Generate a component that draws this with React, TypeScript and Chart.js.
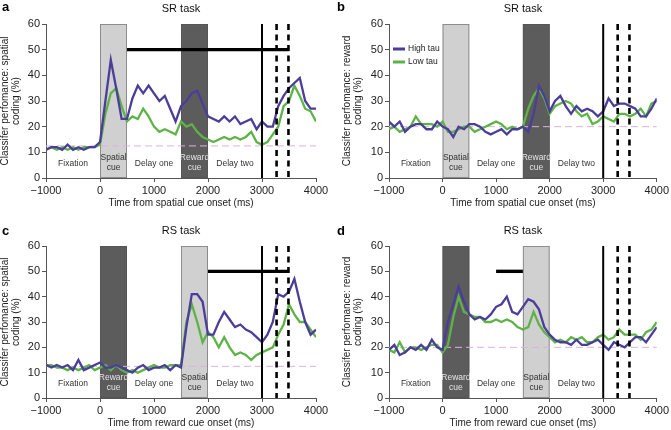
import React, { useEffect, useRef } from "react";
import { Chart, registerables } from "chart.js";
Chart.register(...registerables);

// ---------- data ----------
const TIMES = [
  -1000, -900, -800, -700, -600, -500, -400, -300, -200, -100,
  0, 100, 200, 300, 400, 500, 600, 700, 800, 900,
  1000, 1100, 1200, 1300, 1400, 1500, 1600, 1700, 1800, 1900,
  2000, 2100, 2200, 2300, 2400, 2500, 2600, 2700, 2800, 2900,
  3000, 3100, 3200, 3300, 3400, 3500, 3600, 3700, 3800, 3900, 4000,
];

// a: SR task, spatial coding
const A_HIGH = [
  11, 12, 12, 11, 13, 11, 12, 11, 12, 12,
  14, 30, 46, 35, 23, 23, 31, 36, 33, 36,
  33, 30, 32, 27, 22, 28, 30, 33, 34, 29,
  24, 23, 22, 24, 22, 24, 21, 22, 23, 19,
  22, 20, 20, 28, 32, 35, 37, 39, 30, 27, 27,
];
const A_LOW = [
  11, 12, 11, 12, 11, 12, 11, 12, 12, 12,
  13, 25, 33, 35, 28, 22, 24, 23, 27, 24,
  20, 18, 19, 18, 17, 22, 20, 21, 18, 16,
  15, 14, 15, 16, 15, 16, 15, 16, 18, 14,
  13, 14, 17, 20, 28, 30, 36, 32, 27, 26, 22,
];

// b: SR task, reward coding
const B_HIGH = [
  22, 20, 22, 18, 20, 21, 21, 19, 19, 22,
  20, 19, 16, 20, 19, 21, 21, 20, 18, 17,
  18, 19, 17, 19, 19, 20, 18, 25, 36, 32,
  26, 30, 32, 28, 25, 28, 26, 27, 26, 24,
  26, 31, 28, 29, 29, 28, 27, 24, 24, 27, 31,
];
const B_LOW = [
  19, 20, 18, 19, 20, 24, 21, 21, 21, 20,
  22, 18, 18, 19, 20, 20, 18, 19, 20, 21,
  22, 21, 19, 20, 19, 20, 27, 32, 35, 31,
  25, 28, 29, 30, 29, 26, 24, 25, 21, 22,
  24, 23, 22, 25, 25, 24, 25, 27, 24, 29, 30,
];

// c: RS task, spatial coding
const C_HIGH = [
  13, 12, 13, 12, 13, 11, 15, 11, 12, 13,
  14, 12, 12, 13, 12, 11, 10, 12, 13, 11,
  12, 12, 13, 11, 13, 12, 28, 41, 41, 38,
  25, 25, 30, 34, 31, 28, 29, 27, 26, 24,
  22, 25, 30, 41, 40, 42, 47, 38, 30, 25, 27,
];
const C_LOW = [
  13, 13, 12, 12, 11, 12, 11, 12, 13, 11,
  12, 13, 11, 13, 11, 10, 11, 10, 11, 12,
  13, 12, 12, 13, 13, 13, 30, 37, 30, 22,
  26, 24, 20, 24, 20, 17, 18, 17, 15, 17,
  18, 19, 20, 25, 29, 37, 33, 30, 30, 27, 24,
];

// d: RS task, reward coding
const D_HIGH = [
  19, 21, 17, 18, 20, 19, 21, 19, 23, 20,
  19, 30, 37, 44, 38, 33, 31, 32, 31, 33,
  36, 37, 40, 34, 33, 36, 39, 38, 35, 28,
  25, 23, 22, 22, 21, 23, 21, 21, 22, 23,
  21, 19, 22, 21, 20, 22, 24, 24, 22, 25, 28,
];
const D_LOW = [
  19, 18, 22, 18, 20, 20, 19, 20, 21, 21,
  18, 21, 32, 40, 34, 33, 32, 32, 30, 30,
  31, 30, 31, 30, 28, 27, 28, 34, 29, 26,
  24, 22, 23, 22, 24, 23, 24, 22, 22, 24,
  25, 23, 24, 27, 25, 25, 25, 23, 26, 27, 30,
];

const X_TICKS = [-1000, 0, 1000, 2000, 3000, 4000];
const X_MIN = -1000;
const X_MAX = 4000;
const Y_MAX = 60;
const SOLID_LINE = 3000;
const DASHED_LINES = [3270, 3490];
const CHANCE_SPATIAL = 12.5;
const CHANCE_REWARD = 20;
const SIG_LEVEL = 50;
const SIG_A = [500, 3500];
const SIG_C = [2000, 3500];
const SIG_D = [1000, 1500];

const SR_BOXES = [
  { from: 0, to: 500, dark: false },
  { from: 1500, to: 2000, dark: true },
];
const RS_BOXES = [
  { from: 0, to: 500, dark: true },
  { from: 1500, to: 2000, dark: false },
];
const SR_LABELS = [
  { x: -500, lines: ["Fixation"], dark: false },
  { x: 250, lines: ["Spatial", "cue"], dark: false },
  { x: 1000, lines: ["Delay one"], dark: false },
  { x: 1750, lines: ["Reward", "cue"], dark: true },
  { x: 2500, lines: ["Delay two"], dark: false },
];
const RS_LABELS = [
  { x: -500, lines: ["Fixation"], dark: false },
  { x: 250, lines: ["Reward", "cue"], dark: true },
  { x: 1000, lines: ["Delay one"], dark: false },
  { x: 1750, lines: ["Spatial", "cue"], dark: false },
  { x: 2500, lines: ["Delay two"], dark: false },
];

const PURPLE = "#4b3d9a";
const GREEN = "#5fb346";
const FONT = "'Liberation Sans', Arial, sans-serif";

type PanelDef = {
  letter: string;
  title: string;
  yTitle: string[];
  xTitle: string;
  high: number[];
  low: number[];
  chance: number;
  sig: number[];
  boxes: { from: number; to: number; dark: boolean }[];
  labels: { x: number; lines: string[]; dark: boolean }[];
  legend: boolean;
  left: number;
  top: number;
  width: number;
  height: number;
  pad: { left: number; right: number; top: number; bottom: number };
  yWidth: number;
  letterOffset: number;
};

const PANELS: PanelDef[] = [
  {
    letter: "a", title: "SR task",
    yTitle: ["Classifer perfomance: spatial", "coding (%)"],
    xTitle: "Time from spatial cue onset (ms)",
    high: A_HIGH, low: A_LOW, chance: CHANCE_SPATIAL, sig: SIG_A,
    boxes: SR_BOXES, labels: SR_LABELS, legend: false,
    left: 0, top: 0, width: 335, height: 215,
    pad: { left: 0, right: 19, top: 24, bottom: 5 }, yWidth: 46, letterOffset: 17,
  },
  {
    letter: "b", title: "SR task",
    yTitle: ["Classifer perfomance: reward", "coding (%)"],
    xTitle: "Time from spatial cue onset (ms)",
    high: B_HIGH, low: B_LOW, chance: CHANCE_REWARD, sig: [],
    boxes: SR_BOXES, labels: SR_LABELS, legend: true,
    left: 335, top: 0, width: 336, height: 215,
    pad: { left: 7, right: 11, top: 24, bottom: 5 }, yWidth: 47, letterOffset: 17,
  },
  {
    letter: "c", title: "RS task",
    yTitle: ["Classifer perfomance: spatial", "coding (%)"],
    xTitle: "Time from reward cue onset (ms)",
    high: C_HIGH, low: C_LOW, chance: CHANCE_SPATIAL, sig: SIG_C,
    boxes: RS_BOXES, labels: RS_LABELS, legend: false,
    left: 0, top: 215, width: 335, height: 215,
    pad: { left: 0, right: 19, top: 31, bottom: 0 }, yWidth: 46, letterOffset: 15,
  },
  {
    letter: "d", title: "RS task",
    yTitle: ["Classifer perfomance: reward", "coding (%)"],
    xTitle: "Time from reward cue onset (ms)",
    high: D_HIGH, low: D_LOW, chance: CHANCE_REWARD, sig: SIG_D,
    boxes: RS_BOXES, labels: RS_LABELS, legend: false,
    left: 335, top: 215, width: 336, height: 215,
    pad: { left: 7, right: 11, top: 31, bottom: 0 }, yWidth: 47, letterOffset: 15,
  },
];

function makeDecor(p: PanelDef) {
  return {
    id: "decor-" + p.letter,
    beforeDatasetsDraw(chart: any) {
      const { ctx, chartArea: a, scales } = chart;
      const xs = scales.x, ys = scales.y;
      ctx.save();
      for (const b of p.boxes) {
        const x1 = xs.getPixelForValue(b.from);
        const x2 = xs.getPixelForValue(b.to);
        ctx.fillStyle = b.dark ? "#5c5c5c" : "#d0d0d0";
        ctx.fillRect(x1, a.top, x2 - x1, a.bottom - a.top);
        ctx.strokeStyle = b.dark ? "#555" : "#8c8c8c";
        ctx.lineWidth = 1;
        ctx.strokeRect(x1 + 0.5, a.top + 0.5, x2 - x1 - 1, a.bottom - a.top - 1);
      }
      ctx.strokeStyle = "#d9b3dc";
      ctx.lineWidth = 1;
      ctx.setLineDash([7, 4]);
      const cy = ys.getPixelForValue(p.chance);
      ctx.beginPath();
      ctx.moveTo(a.left, cy);
      ctx.lineTo(a.right, cy);
      ctx.stroke();
      ctx.setLineDash([]);
      ctx.font = "8.5px " + FONT;
      ctx.textAlign = "center";
      ctx.textBaseline = "middle";
      for (const l of p.labels) {
        const x = xs.getPixelForValue(l.x);
        ctx.fillStyle = l.dark ? "#e4e4e4" : "#333";
        if (l.lines.length === 1) {
          ctx.fillText(l.lines[0], x, a.bottom - 14);
        } else {
          ctx.fillText(l.lines[0], x, a.bottom - 20);
          ctx.fillText(l.lines[1], x, a.bottom - 10);
        }
      }
      ctx.restore();
    },
    afterDatasetsDraw(chart: any) {
      const { ctx, chartArea: a, scales } = chart;
      const xs = scales.x, ys = scales.y;
      ctx.save();
      ctx.strokeStyle = "#000";
      ctx.lineWidth = 2;
      const sx = xs.getPixelForValue(SOLID_LINE);
      ctx.beginPath();
      ctx.moveTo(sx, a.top);
      ctx.lineTo(sx, a.bottom);
      ctx.stroke();
      ctx.lineWidth = 2.6;
      ctx.setLineDash([6, 4.5]);
      for (const d of DASHED_LINES) {
        const dx = xs.getPixelForValue(d);
        ctx.beginPath();
        ctx.moveTo(dx, a.top);
        ctx.lineTo(dx, a.bottom);
        ctx.stroke();
      }
      ctx.setLineDash([]);
      if (p.sig.length === 2) {
        const y = ys.getPixelForValue(SIG_LEVEL);
        ctx.lineWidth = 3.4;
        ctx.beginPath();
        ctx.moveTo(xs.getPixelForValue(p.sig[0]), y);
        ctx.lineTo(xs.getPixelForValue(p.sig[1]), y);
        ctx.stroke();
      }
      ctx.restore();
    },
    afterDraw(chart: any) {
      const { ctx, chartArea: a } = chart;
      ctx.save();
      ctx.fillStyle = "#000";
      ctx.font = "bold 13px " + FONT;
      ctx.textAlign = "left";
      ctx.textBaseline = "middle";
      ctx.fillText(p.letter, 2, a.top - p.letterOffset);
      ctx.font = "11px " + FONT;
      ctx.textAlign = "center";
      ctx.fillStyle = "#111";
      ctx.fillText(p.title, (a.left + a.right) / 2, a.top - 15);
      if (p.legend) {
        const lx = a.left + 4;
        const rows = [
          { label: "High tau", color: PURPLE, y: a.top + 25 },
          { label: "Low tau", color: GREEN, y: a.top + 38 },
        ];
        ctx.font = "8.5px " + FONT;
        ctx.textAlign = "left";
        for (const r of rows) {
          ctx.strokeStyle = r.color;
          ctx.lineWidth = 3;
          ctx.beginPath();
          ctx.moveTo(lx, r.y);
          ctx.lineTo(lx + 12, r.y);
          ctx.stroke();
          ctx.fillStyle = "#222";
          ctx.fillText(r.label, lx + 15, r.y);
        }
      }
      ctx.restore();
    },
  };
}

function Panel({ p }: { p: PanelDef }) {
  const ref = useRef<HTMLCanvasElement | null>(null);
  useEffect(() => {
    if (!ref.current) return;
    const chart = new Chart(ref.current, {
      type: "line",
      data: {
        datasets: [
          {
            label: "High tau",
            data: TIMES.map((t, i) => ({ x: t, y: p.high[i] })),
            borderColor: PURPLE,
            borderWidth: 2.3,
            pointRadius: 0,
            tension: 0,
          },
          {
            label: "Low tau",
            data: TIMES.map((t, i) => ({ x: t, y: p.low[i] })),
            borderColor: GREEN,
            borderWidth: 2.3,
            pointRadius: 0,
            tension: 0,
          },
        ],
      },
      options: {
        responsive: false,
        animation: false,
        devicePixelRatio: 1,
        layout: { padding: p.pad },
        plugins: { legend: { display: false }, tooltip: { enabled: false } },
        scales: {
          x: {
            type: "linear",
            min: X_MIN,
            max: X_MAX,
            afterFit: (s: any) => { s.height = 32; },
            afterBuildTicks: (s: any) => {
              s.ticks = X_TICKS.map((v) => ({ value: v }));
            },
            ticks: {
              font: { size: 11, family: FONT },
              color: "#222",
              padding: 2,
              maxRotation: 0,
              callback: (v: any) => (Number(v) < 0 ? "\u2212" + Math.abs(Number(v)) : String(v)),
            },
            grid: { drawOnChartArea: false, drawTicks: true, tickLength: 4, color: "#555" },
            border: { color: "#555", width: 1 },
            title: {
              display: true,
              text: p.xTitle,
              font: { size: 10, family: FONT },
              color: "#222",
              padding: { top: 0, bottom: 1 },
            },
          },
          y: {
            min: 0,
            max: Y_MAX,
            afterFit: (s: any) => { s.width = p.yWidth; },
            ticks: {
              stepSize: 10,
              font: { size: 11, family: FONT },
              color: "#222",
              padding: 2,
            },
            grid: { drawOnChartArea: false, drawTicks: true, tickLength: 4, color: "#555" },
            border: { color: "#555", width: 1 },
            title: {
              display: true,
              text: p.yTitle,
              font: { size: 10, family: FONT, lineHeight: 1.1 },
              color: "#222",
              padding: { top: 0, bottom: 0 },
            },
          },
        },
      } as any,
      plugins: [makeDecor(p)],
    });
    return () => chart.destroy();
  }, [p]);
  return (
    <canvas
      ref={ref}
      width={p.width}
      height={p.height}
      style={{ position: "absolute", left: p.left, top: p.top, width: p.width, height: p.height }}
    />
  );
}

export default function App() {
  return (
    <div style={{ position: "fixed", left: 0, top: 0, width: 671, height: 430, background: "#fff" }}>
      {PANELS.map((p) => (
        <Panel key={p.letter} p={p} />
      ))}
    </div>
  );
}
